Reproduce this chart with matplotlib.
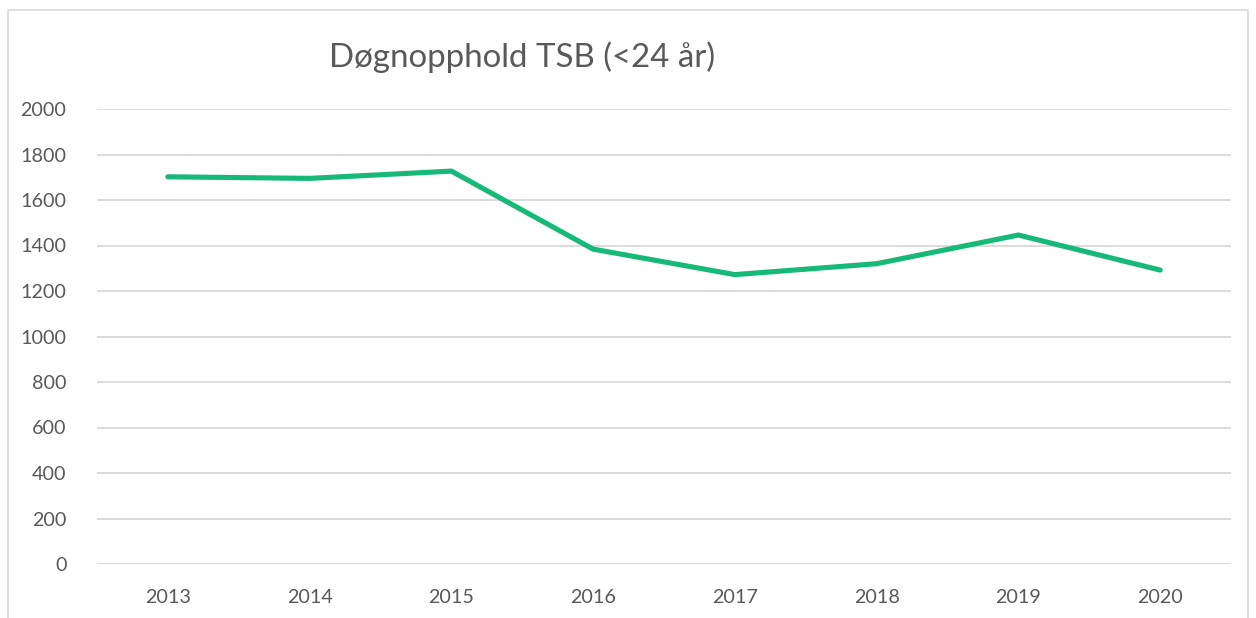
import matplotlib
matplotlib.use("Agg")
import matplotlib.pyplot as plt
from matplotlib.patches import Rectangle

years = ["2013", "2014", "2015", "2016", "2017", "2018", "2019", "2020"]
values = [1702, 1695, 1727, 1384, 1272, 1320, 1446, 1292]
yticks = [0, 200, 400, 600, 800, 1000, 1200, 1400, 1600, 1800, 2000]
title = "Døgnopphold TSB (<24 år)"

plt.rcParams['font.family'] = ['Lato', 'DejaVu Sans']
fig = plt.figure(figsize=(12.56, 6.18), dpi=100)
ax = fig.add_axes([97/1256, (618-564)/618, (1231-97)/1256, (564-109)/618])

x = list(range(len(years)))
ax.plot(x, values, color="#17b978", linewidth=3.7, solid_capstyle="round", solid_joinstyle="miter", zorder=3)

ax.set_xlim(-0.5, len(years) - 0.5)
ax.set_ylim(0, 2000)
ax.set_yticks(yticks)
ax.set_yticklabels([str(v) for v in yticks])
ax.set_xticks(x)
ax.set_xticklabels(years)
ax.grid(axis="y", color="#d9d9d9", linewidth=1.3)
ax.set_axisbelow(True)
for s in ax.spines.values():
    s.set_visible(False)
ax.tick_params(axis="both", length=0, labelsize=14.2, labelcolor="#595959")
ax.tick_params(axis="y", pad=22)
ax.tick_params(axis="x", pad=18)

fig.text(522/1256, 1 - 57/618, title, ha="center", va="center", fontsize=23.8, color="#595959")

fig.patches.append(Rectangle((8/1256, -0.1), (1248-8)/1256, (618-10)/618 + 0.1,
                             transform=fig.transFigure, fill=False, edgecolor="#d9d9d9", linewidth=1.2))

fig.savefig("out.png", dpi=100)
